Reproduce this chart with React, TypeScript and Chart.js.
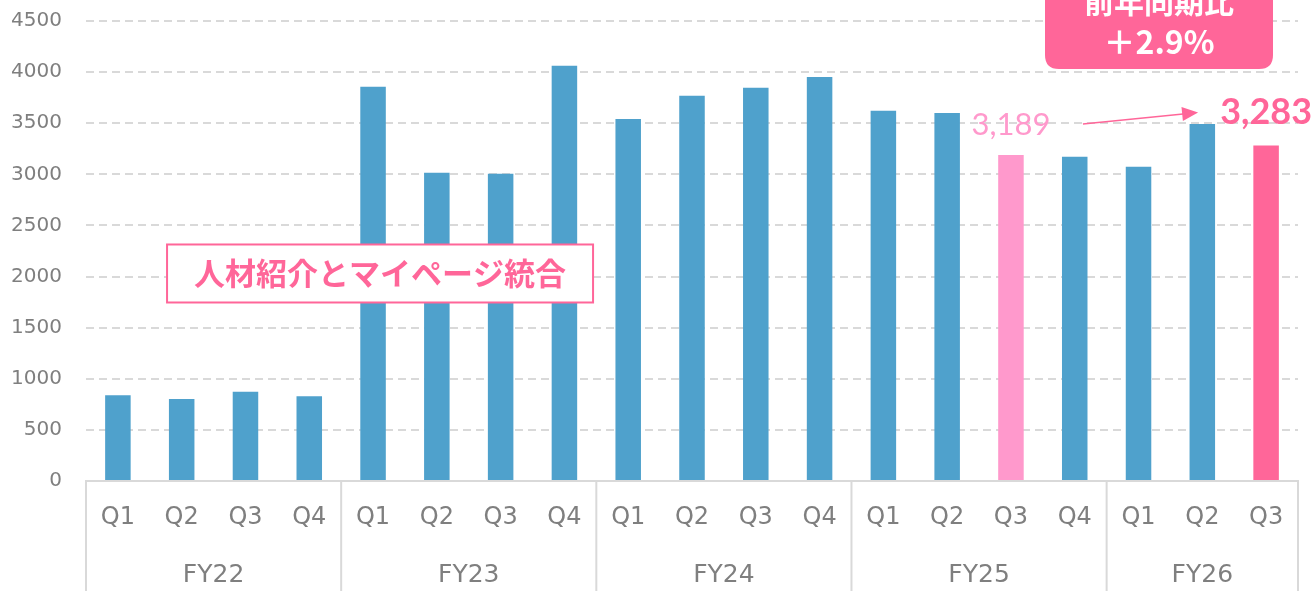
import React, { useEffect, useRef } from "react";
import { Chart, registerables } from "chart.js";

Chart.register(...registerables);

const quarters = ["Q1", "Q2", "Q3", "Q4", "Q1", "Q2", "Q3", "Q4", "Q1", "Q2", "Q3", "Q4", "Q1", "Q2", "Q3", "Q4", "Q1", "Q2", "Q3"];
const fiscalYears = ["FY22", "FY23", "FY24", "FY25", "FY26"];
const quartersPerYear = [4, 4, 4, 4, 3];
const values = [840, 802, 874, 829, 3858, 3015, 3005, 4062, 3541, 3768, 3846, 3952, 3622, 3600, 3189, 3172, 3075, 3492, 3283];
const yTicks = [0, 500, 1000, 1500, 2000, 2500, 3000, 3500, 4000, 4500];
const prevIndex = 14;
const curIndex = 18;
const prevLabel = "3,189";
const curLabel = "3,283";
const growthTitle = "前年同期比";
const growthValue = "＋2.9%";
const noteText = "人材紹介とマイページ統合";
const noteIndex = 4;
const noteValue = 2030;

const BLUE = "#4FA1CC";
const LIGHT_PINK = "#FF99CC";
const PINK = "#FF6699";
const GRID = "#D9D9D9";
const TEXT = "#7F7F7F";
const FONT = "'DejaVu Sans', sans-serif";
const LBL = "Lato, 'Noto Sans', sans-serif";
const JP = "'Noto Sans CJK JP', sans-serif";

function roundRect(ctx: CanvasRenderingContext2D, x: number, y: number, w: number, h: number, r: number) {
  ctx.beginPath();
  ctx.moveTo(x + r, y);
  ctx.lineTo(x + w - r, y);
  ctx.quadraticCurveTo(x + w, y, x + w, y + r);
  ctx.lineTo(x + w, y + h - r);
  ctx.quadraticCurveTo(x + w, y + h, x + w - r, y + h);
  ctx.lineTo(x + r, y + h);
  ctx.quadraticCurveTo(x, y + h, x, y + h - r);
  ctx.lineTo(x, y + r);
  ctx.quadraticCurveTo(x, y, x + r, y);
  ctx.closePath();
}

const overlayPlugin = {
  id: "overlay",
  afterDraw(chart: any) {
    const ctx: CanvasRenderingContext2D = chart.ctx;
    const xs = chart.scales.x;
    const ys = chart.scales.y;
    const area = chart.chartArea;
    const bottom = chart.height;
    const step = (area.right - area.left) / quarters.length;

    // group lines and FY labels
    ctx.save();
    ctx.strokeStyle = GRID;
    ctx.lineWidth = 2;
    let start = 0;
    const bounds: number[] = [0];
    quartersPerYear.forEach((n) => {
      start += n;
      bounds.push(start);
    });
    bounds.forEach((b) => {
      const x = area.left + b * step;
      ctx.beginPath();
      ctx.moveTo(x, area.bottom);
      ctx.lineTo(x, bottom);
      ctx.stroke();
    });
    ctx.fillStyle = TEXT;
    ctx.font = `25px ${FONT}`;
    ctx.textAlign = "center";
    ctx.textBaseline = "middle";
    fiscalYears.forEach((fy, i) => {
      const x = area.left + ((bounds[i] + bounds[i + 1]) / 2) * step;
      ctx.fillText(fy, x, area.bottom + 94);
    });
    ctx.restore();

    // note box
    ctx.save();
    const nx = xs.getPixelForValue(noteIndex) + 7;
    const ny = ys.getPixelForValue(noteValue);
    ctx.font = `bold 31px ${JP}`;
    const bw = 426;
    const bh = 58;
    ctx.fillStyle = "#FFFFFF";
    ctx.fillRect(nx - bw / 2, ny - bh / 2, bw, bh);
    ctx.strokeStyle = PINK;
    ctx.lineWidth = 2;
    ctx.strokeRect(nx - bw / 2, ny - bh / 2, bw, bh);
    ctx.fillStyle = PINK;
    ctx.textAlign = "center";
    ctx.textBaseline = "middle";
    ctx.fillText(noteText, nx, ny);
    ctx.restore();

    // value labels
    ctx.save();
    const px = xs.getPixelForValue(prevIndex);
    const py = ys.getPixelForValue(values[prevIndex]) - 30;
    ctx.font = `31px ${LBL}`;
    ctx.fillStyle = LIGHT_PINK;
    ctx.textAlign = "center";
    ctx.textBaseline = "middle";
    ctx.fillText(prevLabel, px, py);
    const cx = xs.getPixelForValue(curIndex);
    const cy = ys.getPixelForValue(values[curIndex]) - 33;
    ctx.font = `bold 36px ${LBL}`;
    ctx.fillStyle = PINK;
    ctx.fillText(curLabel, cx, cy);

    // arrow
    const ax1 = px + 72;
    const ay1 = py - 1;
    const ax2 = cx - 68;
    const ay2 = cy;
    ctx.strokeStyle = PINK;
    ctx.lineWidth = 1.5;
    ctx.beginPath();
    ctx.moveTo(ax1, ay1);
    ctx.lineTo(ax2 - 10, ay2 + 1);
    ctx.stroke();
    const ang = Math.atan2(ay2 - ay1, ax2 - ax1);
    ctx.fillStyle = PINK;
    ctx.beginPath();
    ctx.moveTo(ax2, ay2);
    ctx.lineTo(ax2 - 16 * Math.cos(ang) + 7 * Math.sin(ang), ay2 - 16 * Math.sin(ang) - 7 * Math.cos(ang));
    ctx.lineTo(ax2 - 16 * Math.cos(ang) - 7 * Math.sin(ang), ay2 - 16 * Math.sin(ang) + 7 * Math.cos(ang));
    ctx.closePath();
    ctx.fill();

    // growth box
    const gx2 = area.right - 25;
    const gx1 = gx2 - 228;
    const gy2 = area.top + 48;
    ctx.fillStyle = PINK;
    roundRect(ctx, gx1, gy2 - 110, gx2 - gx1, 110, 14);
    ctx.fill();
    ctx.fillStyle = "#FFFFFF";
    ctx.textAlign = "center";
    ctx.textBaseline = "middle";
    const gcx = (gx1 + gx2) / 2;
    ctx.font = `bold 30px ${JP}`;
    ctx.fillText(growthTitle, gcx, gy2 - 67);
    ctx.font = `bold 32px ${JP}`;
    ctx.fillText(growthValue, gcx, gy2 - 27);
    ctx.restore();
  },
};

export default function App() {
  const ref = useRef<HTMLCanvasElement>(null);
  useEffect(() => {
    document.body.style.margin = "0";
    const colors = values.map((_, i) => (i === prevIndex ? LIGHT_PINK : i === curIndex ? PINK : BLUE));
    const chart = new Chart(ref.current!, {
      type: "bar",
      data: {
        labels: quarters,
        datasets: [
          {
            data: values,
            backgroundColor: colors,
            borderWidth: 0,
            barPercentage: 0.8,
            categoryPercentage: 0.5,
          },
        ],
      },
      options: {
        animation: false,
        responsive: false,
        maintainAspectRatio: false,
        layout: { padding: { top: 21, right: 16, left: 0, bottom: 0 } },
        plugins: { legend: { display: false }, tooltip: { enabled: false } },
        scales: {
          x: {
            grid: { display: false },
            border: { color: GRID, width: 2 },
            ticks: { color: TEXT, font: { size: 24, family: FONT }, padding: 14, autoSkip: false, maxRotation: 0 },
            afterFit: (s: any) => {
              s.height = 110;
              s.paddingLeft = 0;
              s.paddingRight = 0;
            },
          },
          y: {
            min: 0,
            max: 4500,
            afterBuildTicks: (s: any) => {
              s.ticks = yTicks.map((v) => ({ value: v }));
            },
            grid: {
              color: (c: any) => (c.tick && c.tick.value === 0 ? "rgba(0,0,0,0)" : GRID),
              lineWidth: 2,
              drawTicks: false,
            },
            border: { display: false, dash: [8, 5] },
            ticks: { color: TEXT, font: { size: 20, family: FONT }, padding: 24, callback: (v: any) => String(v) },
            afterFit: (s: any) => {
              s.width = 86;
              s.paddingTop = 0;
              s.paddingBottom = 0;
            },
          },
        },
      },
      plugins: [overlayPlugin],
    });
    return () => chart.destroy();
  }, []);
  return <canvas ref={ref} width={1314} height={591} style={{ display: "block" }} />;
}
